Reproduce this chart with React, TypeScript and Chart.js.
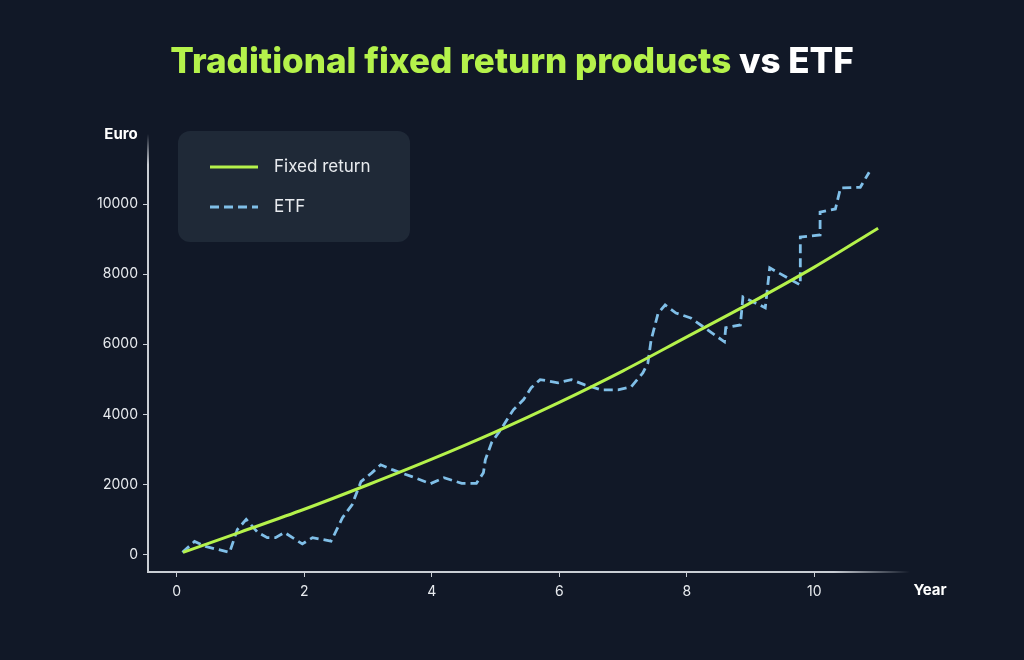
import React, { useEffect, useRef } from "react";
import { Chart, registerables } from "chart.js";

Chart.register(...registerables);

// ---- data ----
const fixedYears = [0.1, 1, 2, 3, 4, 5, 6, 7, 8, 9, 10, 11];
const fixedValues = [60, 640, 1290, 1990, 2720, 3500, 4340, 5240, 6210, 7180, 8200, 9310];

const etfYears = [
  0.09, 0.28, 0.45, 0.83, 0.95, 1.09, 1.27, 1.42, 1.55, 1.69, 1.97, 2.13, 2.42, 2.46,
  2.6, 2.75, 2.89, 3.06, 3.2, 3.38, 3.69, 3.98, 4.19, 4.47, 4.7, 4.81, 4.84, 4.94,
  5.08, 5.28, 5.44, 5.56, 5.7, 5.98, 6.19, 6.4, 6.66, 6.92, 7.13, 7.31, 7.39, 7.44,
  7.55, 7.66, 7.83, 8.06, 8.28, 8.48, 8.59, 8.61, 8.84, 8.88, 9.23, 9.3, 9.78, 9.78,
  10.09, 10.09, 10.33, 10.41, 10.72, 10.86,
];
const etfValues = [
  60, 370, 230, 60, 710, 1000, 630, 480, 480, 630, 300, 480, 380, 520,
  1050, 1420, 2080, 2330, 2560, 2420, 2220, 2020, 2190, 2030, 2030, 2330, 2700, 3200,
  3560, 4130, 4420, 4760, 4990, 4900, 4990, 4840, 4700, 4700, 4790, 5180, 5470, 6120,
  6890, 7120, 6890, 6750, 6470, 6210, 6070, 6470, 6550, 7350, 7040, 8180, 7690, 9060,
  9120, 9770, 9860, 10460, 10480, 10910,
];

const xTickValues = [0, 2, 4, 6, 8, 10];
const yTickValues = [0, 2000, 4000, 6000, 8000, 10000];

const seriesLabels = ["Fixed return", "ETF"];
const titleGreen = "Traditional fixed return products";
const titleWhite = " vs ETF";
const xAxisTitle = "Year";
const yAxisTitle = "Euro";

// ---- styles ----
const BG = "#111827";
const PANEL = "#1f2937";
const GREEN = "#b5f24b";
const BLUE = "#80bfe8";
const AXIS = "#c9cdd4";
const TEXT = "#e8ebef";
const FONT = "Inter, 'Noto Sans', sans-serif";

const decorPlugin = {
  id: "decor",
  beforeDraw(chart: any) {
    const { ctx } = chart;
    ctx.save();
    ctx.fillStyle = BG;
    ctx.fillRect(0, 0, chart.width, chart.height);
    ctx.restore();
  },
  afterDraw(chart: any) {
    const { ctx, chartArea } = chart;
    const { left, right, top, bottom } = chartArea;
    ctx.save();

    // axis lines with fading ends
    const gx = ctx.createLinearGradient(left, 0, right, 0);
    gx.addColorStop(0, AXIS);
    gx.addColorStop(0.9, AXIS);
    gx.addColorStop(1, "rgba(201,205,212,0)");
    ctx.strokeStyle = gx;
    ctx.lineWidth = 2;
    ctx.beginPath();
    ctx.moveTo(left - 1, bottom);
    ctx.lineTo(right, bottom);
    ctx.stroke();

    const gy = ctx.createLinearGradient(0, bottom, 0, top);
    gy.addColorStop(0, AXIS);
    gy.addColorStop(0.93, AXIS);
    gy.addColorStop(1, "rgba(201,205,212,0)");
    ctx.strokeStyle = gy;
    ctx.beginPath();
    ctx.moveTo(left, bottom + 1);
    ctx.lineTo(left, top);
    ctx.stroke();

    // title
    ctx.font = `800 35px ${FONT}`;
    ctx.textBaseline = "middle";
    ctx.textAlign = "left";
    const w1 = ctx.measureText(titleGreen).width;
    const w2 = ctx.measureText(titleWhite).width;
    const startX = chart.width / 2 - (w1 + w2) / 2;
    ctx.fillStyle = GREEN;
    ctx.fillText(titleGreen, startX, 62);
    ctx.fillStyle = "#ffffff";
    ctx.fillText(titleWhite, startX + w1, 62);

    // axis titles
    ctx.font = `700 15px ${FONT}`;
    ctx.fillStyle = "#ffffff";
    ctx.textAlign = "center";
    ctx.fillText(yAxisTitle, 121, 134);
    ctx.fillText(xAxisTitle, 930, 590);

    // legend panel
    const lx = 178, ly = 131, lw = 232, lh = 111;
    ctx.fillStyle = PANEL;
    ctx.beginPath();
    ctx.roundRect(lx, ly, lw, lh, 12);
    ctx.fill();

    const ds = chart.data.datasets;
    const rows = [167, 207];
    ds.forEach((d: any, i: number) => {
      const y = rows[i];
      ctx.strokeStyle = d.borderColor;
      ctx.lineWidth = 3;
      ctx.setLineDash(d.borderDash || []);
      ctx.beginPath();
      ctx.moveTo(210, y);
      ctx.lineTo(258, y);
      ctx.stroke();
      ctx.setLineDash([]);
      ctx.fillStyle = TEXT;
      ctx.font = `400 17px ${FONT}`;
      ctx.textAlign = "left";
      ctx.fillText(d.label, 274, y);
    });

    ctx.restore();
  },
};

export default function App() {
  const ref = useRef<HTMLCanvasElement | null>(null);

  useEffect(() => {
    if (!ref.current) return;
    const chart = new Chart(ref.current, {
      type: "line",
      data: {
        datasets: [
          {
            label: seriesLabels[0],
            data: fixedYears.map((x, i) => ({ x, y: fixedValues[i] })),
            borderColor: GREEN,
            borderWidth: 3,
            pointRadius: 0,
            cubicInterpolationMode: "monotone",
            order: 1,
          },
          {
            label: seriesLabels[1],
            data: etfYears.map((x, i) => ({ x, y: etfValues[i] })),
            borderColor: BLUE,
            borderWidth: 2.8,
            borderDash: [9, 5],
            pointRadius: 0,
            tension: 0,
            order: 2,
          },
        ],
      },
      options: {
        responsive: false,
        animation: false,
        layout: { padding: { top: 134, right: 114, left: 0, bottom: 0 } },
        plugins: {
          legend: { display: false },
          tooltip: { enabled: false },
          title: { display: false },
        },
        scales: {
          x: {
            type: "linear",
            min: -0.45,
            max: 11.5,
            afterFit(scale: any) {
              scale.height = 88;
            },
            afterBuildTicks(scale: any) {
              scale.ticks = xTickValues.map((v) => ({ value: v }));
            },
            border: { display: false },
            grid: {
              display: true,
              drawOnChartArea: false,
              drawTicks: true,
              tickLength: 5,
              color: AXIS,
              lineWidth: 1,
            },
            ticks: {
              color: TEXT,
              font: { family: FONT, size: 14 },
              padding: 6,
              maxRotation: 0,
              callback: (v: any) => String(v),
            },
          },
          y: {
            type: "linear",
            min: -500,
            max: 12000,
            afterFit(scale: any) {
              scale.width = 148;
            },
            afterBuildTicks(scale: any) {
              scale.ticks = yTickValues.map((v) => ({ value: v }));
            },
            border: { display: false },
            grid: {
              display: true,
              drawOnChartArea: false,
              drawTicks: true,
              tickLength: 5,
              color: AXIS,
              lineWidth: 1,
            },
            ticks: {
              color: TEXT,
              font: { family: FONT, size: 14 },
              padding: 5,
              callback: (v: any) => String(v),
            },
          },
        },
      },
      plugins: [decorPlugin],
    } as any);
    return () => chart.destroy();
  }, []);

  return (
    <div
      style={{
        position: "fixed",
        left: 0,
        top: 0,
        width: 1024,
        height: 660,
        background: BG,
      }}
    >
      <canvas ref={ref} width={1024} height={660} style={{ width: 1024, height: 660, display: "block" }} />
    </div>
  );
}
